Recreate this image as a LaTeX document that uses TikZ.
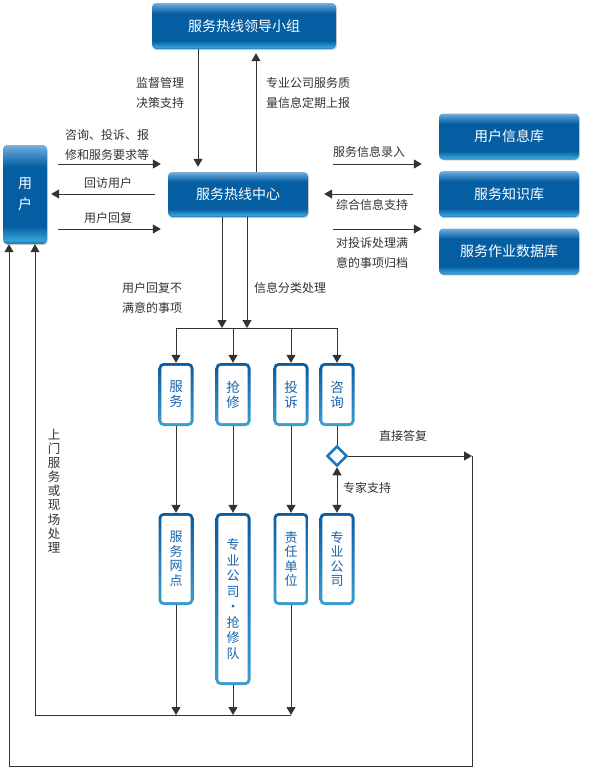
\documentclass[tikz,border=0pt]{standalone}
\usepackage{fontspec}
\setmainfont{Noto Sans CJK SC}
\usepackage{xcolor}
\usetikzlibrary{arrows.meta, shapes.geometric, shadows}

\definecolor{lineclr}{RGB}{51,51,51}
\definecolor{btop}{RGB}{80,152,208}
\definecolor{bmid}{RGB}{6,94,162}
\definecolor{bglow}{RGB}{52,162,214}
\definecolor{bedge}{RGB}{30,110,170}
\definecolor{frametop}{RGB}{10,92,160}
\definecolor{framebot}{RGB}{58,158,208}
\definecolor{catblue}{RGB}{22,100,170}
\definecolor{diaclr}{RGB}{30,122,188}

\pgfdeclareverticalshading{boxshade}{100bp}{color(0bp)=(bedge); color(25bp)=(bedge); color(27bp)=(bglow); color(34bp)=(bmid); color(64bp)=(bmid); color(72bp)=(btop); color(75bp)=(btop!75!white); color(100bp)=(btop!75!white)}

\begin{document}
\begin{tikzpicture}[x=1pt, y=-1pt,
	arr/.style={draw=lineclr, line width=1pt, -{Triangle[length=8pt,width=9pt]}},
	arrboth/.style={draw=lineclr, line width=1pt, {Triangle[length=8pt,width=9pt]}-{Triangle[length=8pt,width=9pt]}},
	link/.style={draw=lineclr, line width=1pt},
	bluebox/.style={rounded corners=4pt, shading=boxshade, text=white, inner sep=0pt, align=center,
		font=\fontsize{14}{21}\selectfont, drop shadow={shadow xshift=0.8pt, shadow yshift=-1.2pt, opacity=0.3}},
	catbox/.style={rounded corners=5pt, top color=frametop, bottom color=framebot, text=catblue, inner sep=0pt,
		align=center, minimum width=35pt, font=\fontsize{13.5}{15}\selectfont,
		path picture={\fill[white, rounded corners=3pt] ([shift={(2.8pt,-2.8pt)}]path picture bounding box.north west) rectangle ([shift={(-2.8pt,2.8pt)}]path picture bounding box.south east);}},
	lbl/.style={text=lineclr, inner sep=0pt, align=left, font=\fontsize{12}{20}\selectfont}]
	\fill[white] (0,0) rectangle (616,769);
	\useasboundingbox (0,0) rectangle (616,769);

	% 上层与中心
	\node[bluebox, minimum width=184pt, minimum height=46pt] (lead) at (244,26) {服务热线领导小组};
	\node[bluebox, minimum width=140pt, minimum height=45pt] (hub) at (238,194.5) {服务热线中心};
	\node[bluebox, minimum width=44pt, minimum height=99pt] (user) at (25,194.5) {用\\户};

	% 数据库
	\node[bluebox, minimum width=140pt, minimum height=46pt] (db1) at (509,136.5) {用户信息库};
	\node[bluebox, minimum width=140pt, minimum height=46pt] (db2) at (509,194) {服务知识库};
	\node[bluebox, minimum width=140pt, minimum height=46pt] (db3) at (509,251.5) {服务作业数据库};

	% 分类
	\node[catbox, minimum height=63pt] (fw) at (176,394.5) {服\\务};
	\node[catbox, minimum height=63pt] (qx) at (233,394.5) {抢\\修};
	\node[catbox, minimum height=63pt] (ts) at (291,394.5) {投\\诉};
	\node[catbox, minimum height=63pt] (zx) at (337,394.5) {咨\\询};

	% 处理单位
	\node[catbox, minimum height=92pt, font=\fontsize{13}{14.5}\selectfont] (wd) at (176,559) {服\\务\\网\\点};
	\node[catbox, minimum height=172pt, font=\fontsize{13}{15.5}\selectfont] (qxd) at (233,599) {专\\业\\公\\司\\·\\抢\\修\\队};
	\node[catbox, minimum height=92pt, font=\fontsize{13}{14.5}\selectfont] (zr) at (291,559) {责\\任\\单\\位};
	\node[catbox, minimum height=92pt, font=\fontsize{13}{14.5}\selectfont] (zy) at (337,559) {专\\业\\公\\司};
	\node[diamond, draw=diaclr, line width=2.6pt, fill=white, minimum width=20pt, minimum height=20pt, inner sep=0pt] (dec) at (337,456) {};

	% 参考点
	\coordinate (pa) at (198,0);
	\coordinate (pb) at (256,0);
	\coordinate (r1) at (0,164);
	\coordinate (r2) at (0,194);
	\coordinate (r3) at (0,229);
	\coordinate (ca) at (222,328);
	\coordinate (cb) at (247,328);
	\coordinate (sa) at (176,328);
	\coordinate (sd) at (337,328);
	\coordinate (ea) at (472,456);
	\coordinate (eb) at (472,766);
	\coordinate (ec) at (9,766);
	\coordinate (fa) at (35,715);
	\coordinate (fb) at (291,715);

	% 连线
	\draw[arr, shorten >=5pt] (lead.south -| pa) -- (hub.north -| pa);
	\draw[arr, shorten >=4pt] (hub.north -| pb) -- (lead.south -| pb);
	\draw[arr, shorten <=11pt, shorten >=7pt] (user.east |- r1) -- (hub.west |- r1);
	\draw[arr, shorten <=13pt, shorten >=4pt] (hub.west |- r2) -- (user.east |- r2);
	\draw[arr, shorten <=11pt, shorten >=7pt] (user.east |- r3) -- (hub.west |- r3);
	\draw[arr, shorten <=25pt, shorten >=17pt] (hub.east |- r1) -- (db1.west |- r1);
	\draw[arr, shorten <=26pt, shorten >=16pt] (db2.west |- r2) -- (hub.east |- r2);
	\draw[arr, shorten <=25pt, shorten >=17pt] (hub.east |- r3) -- (db3.west |- r3);
	\draw[arr] (hub.south -| ca) -- (ca);
	\draw[arr] (hub.south -| cb) -- (cb);
	\draw[link] (sa) -- (sd);
	\draw[arr] (sa) -- (fw.north);
	\draw[arr] (qx.north |- sa) -- (qx.north);
	\draw[arr] (ts.north |- sa) -- (ts.north);
	\draw[arr] (sd) -- (zx.north);
	\draw[arr] (fw.south) -- (wd.north);
	\draw[arr] (qx.south) -- (qxd.north);
	\draw[arr] (ts.south) -- (zr.north);
	\draw[link] (zx.south) -- (dec.north);
	\draw[arrboth] (dec.south) -- (zy.north);
	\draw[arr] (dec.east) -- (ea);
	\draw[arr] (ea) -- (eb) -- (ec) -- (user.south -| ec);
	\draw[arr] (wd.south) -- (wd.south |- fa);
	\draw[arr] (qxd.south) -- (qxd.south |- fa);
	\draw[arr] (zr.south) -- (zr.south |- fa);
	\draw[link] (fa) -- (fb);
	\draw[arr] (fa) -- (user.south -| fa);

	% 文字
	\node[lbl] (l1) at (160,93) {监督管理\\决策支持};
	\node[lbl, anchor=west] (l2) at (266,93) {专业公司服务质\\量信息定期上报};
	\node[lbl] (l3) at (107,145) {咨询、投诉、报\\修和服务要求等};
	\node[lbl] (l4) at (108,183) {回访用户};
	\node[lbl] (l5) at (108,218) {用户回复};
	\node[lbl, anchor=west] (l6) at (333,152) {服务信息录入};
	\node[lbl, anchor=west] (l7) at (336,205) {综合信息支持};
	\node[lbl, anchor=west] (l8) at (336,252.5) {对投诉处理满\\意的事项归档};
	\node[lbl, anchor=west] (l9) at (122,298) {用户回复不\\满意的事项};
	\node[lbl, anchor=west] (l10) at (254,288) {信息分类处理};
	\node[lbl] (l11) at (403,436) {直接答复};
	\node[lbl] (l12) at (367,488) {专家支持};
	\node[lbl, align=center, font=\fontsize{12.5}{14.1}\selectfont] (l13) at (54,491) {上\\门\\服\\务\\或\\现\\场\\处\\理};
\end{tikzpicture}
\end{document}
